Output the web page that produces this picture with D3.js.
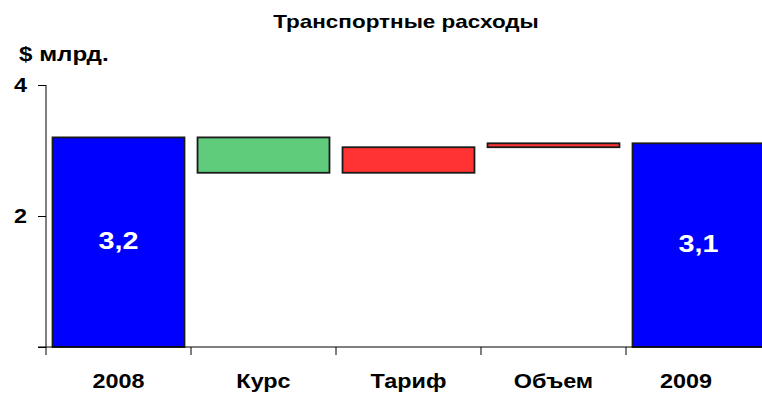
<!DOCTYPE html>
<html>
<head>
<meta charset="utf-8">
<script src="https://cdn.jsdelivr.net/npm/d3@7/dist/d3.min.js"></script>
<style>
  html, body { margin: 0; padding: 0; background: #fff; }
  svg { display: block; font-family: "Liberation Sans", Arial, sans-serif; }
</style>
</head>
<body>
<svg id="chart" width="762" height="393"></svg>
<script>
// Waterfall: transport costs, 2008 → 2009 ($ bn)
const categories = ["2008", "Курс", "Тариф", "Объем", "2009"];
const kinds = ["total", "delta", "delta", "delta", "total"];
const values = [3.2, -0.54, 0.39, 0.06, 3.11];
const valueLabels = ["3,2", "", "", "", "3,1"];
const yTicks = [0, 2, 4];
const yTickLabels = ["", "2", "4"];

const title = "Транспортные расходы";
const unitLabel = "$ млрд.";

const W = 762;
const svg = d3.select("#chart");
const STRETCH = 1.2; // wide bold lettering

// Text drawn with a horizontal stretch around its anchor point
function wideText(parent, x, y, str, size, anchor, sx, fill) {
  return parent.append("text")
    .attr("transform", `translate(${x},${y}) scale(${sx},1)`)
    .attr("text-anchor", anchor)
    .attr("font-size", size)
    .attr("font-weight", "bold")
    .attr("fill", fill || "#000")
    .text(str);
}

const x = d3.scaleBand()
  .domain(categories)
  .range([46, 771])
  .paddingInner(0.09)
  .paddingOuter(0.045);

const y = d3.scaleLinear().domain([0, 4]).range([347, 85]);

// Floating segments for the waterfall
let running = 0;
const bars = categories.map((c, i) => {
  let lo, hi;
  if (kinds[i] === "total") {
    lo = 0; hi = values[i]; running = values[i];
  } else {
    const start = running;
    running = running + values[i];
    lo = Math.min(start, running); hi = Math.max(start, running);
  }
  let fill = "#0000ff";
  if (kinds[i] === "delta") fill = values[i] < 0 ? "#5ecc7a" : "#ff3333";
  return { c, lo, hi, fill, label: valueLabels[i], v: values[i] };
});

svg.append("g").selectAll("rect")
  .data(bars)
  .join("rect")
  .attr("x", d => x(d.c))
  .attr("width", x.bandwidth())
  .attr("y", d => y(d.hi))
  .attr("height", d => y(d.lo) - y(d.hi))
  .attr("fill", d => d.fill)
  .attr("stroke", "#1a1a1a")
  .attr("stroke-width", 1.8);

// Value labels inside the total bars
const gv = svg.append("g");
bars.filter(d => d.label).forEach(d => {
  wideText(gv, x(d.c) + x.bandwidth() / 2, y(d.hi / 2) + 7, d.label, 24, "middle", STRETCH, "#fff");
});

// Y axis
const yAxis = d3.axisLeft(y).tickValues(yTicks).tickSize(8).tickFormat(() => "");
const gy = svg.append("g").attr("transform", "translate(46,0)").call(yAxis);
gy.select(".domain").attr("d", `M0,${y(4)}V${y(0)}`).attr("stroke", "#000");
gy.selectAll(".tick line").attr("stroke", "#000");
const gyl = svg.append("g");
yTicks.forEach((t, i) => {
  if (yTickLabels[i]) wideText(gyl, 27, y(t) + 7, yTickLabels[i], 19.5, "end", STRETCH);
});

// X axis baseline and category separators
svg.append("line")
  .attr("x1", 38).attr("x2", 771)
  .attr("y1", y(0)).attr("y2", y(0))
  .attr("stroke", "#000");

const bounds = categories.map(c => x(c) - x.step() * x.paddingOuter());
svg.append("g").selectAll("line")
  .data(bounds)
  .join("line")
  .attr("x1", d => d).attr("x2", d => d)
  .attr("y1", y(0)).attr("y2", y(0) + 8)
  .attr("stroke", "#000");

// Category labels, kept inside the visible width
const gx = svg.append("g");
categories.forEach(c => {
  const t = wideText(gx, 0, 0, c, 19.5, "middle", STRETCH);
  const w = t.node().getComputedTextLength() * STRETCH;
  const cx = Math.min(x(c) + x.bandwidth() / 2, W - 50 - w / 2);
  t.attr("transform", `translate(${cx},388) scale(${STRETCH},1)`);
});

// Title and unit
wideText(svg, 406, 27.5, title, 17.7, "middle", 1.27);
wideText(svg, 19, 61, unitLabel, 20.5, "start", 1.18);
</script>
</body>
</html>
